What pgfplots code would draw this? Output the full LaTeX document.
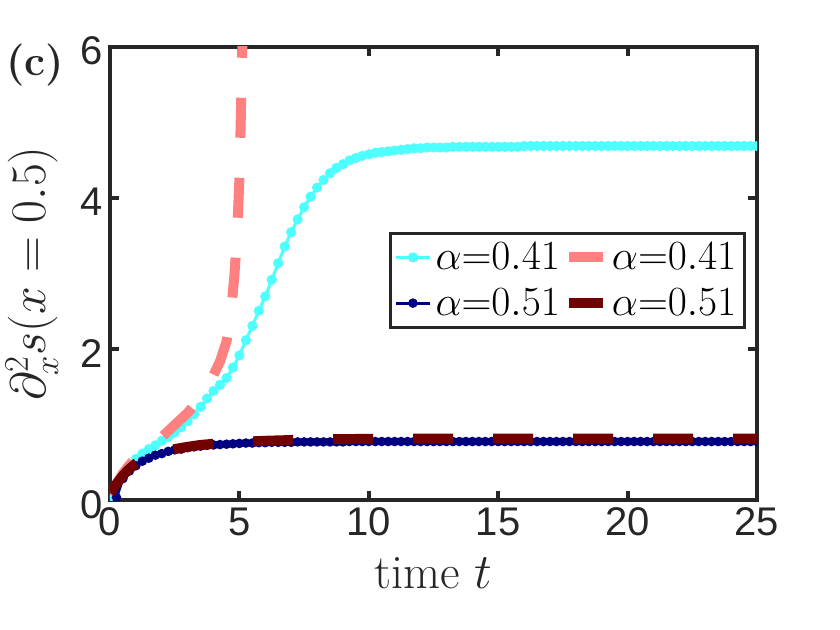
\documentclass[border=0pt]{standalone}
\usepackage{fontspec}
\usepackage{pgfplots}
\pgfplotsset{compat=1.18}
\newfontfamily\arialf{Liberation Sans}
\definecolor{axgray}{RGB}{38,38,38}
\definecolor{cyanl}{RGB}{77,255,255}
\definecolor{navyd}{RGB}{0,0,128}
\definecolor{pinkl}{RGB}{255,128,128}
\definecolor{redd}{RGB}{115,0,0}

% alpha = 0.41, dotted line
\pgfplotstableread{
t y
0 0.02
0.25 0.17
0.5 0.31
0.75 0.44
1 0.55
1.25 0.62
1.5 0.68
1.75 0.73
2 0.79
2.25 0.84
2.5 0.90
2.75 0.97
3 1.05
3.25 1.14
3.5 1.24
3.75 1.35
4 1.45
4.25 1.53
4.5 1.62
4.75 1.76
5 1.92
5.25 2.12
5.5 2.31
5.75 2.51
6 2.70
6.25 2.92
6.5 3.14
6.75 3.36
7 3.55
7.25 3.72
7.5 3.88
7.75 4.02
8 4.14
8.25 4.24
8.5 4.33
8.75 4.40
9 4.45
9.25 4.50
9.5 4.53
9.75 4.56
10 4.58
10.25 4.60
10.5 4.61
10.75 4.62
11 4.63
11.25 4.64
11.5 4.65
11.75 4.66
12 4.66
12.25 4.67
12.5 4.67
12.75 4.67
13 4.67
13.25 4.68
13.5 4.68
13.75 4.68
14 4.68
14.25 4.68
14.5 4.68
14.75 4.68
15 4.68
15.25 4.68
15.5 4.68
15.75 4.68
16 4.69
16.25 4.69
16.5 4.69
16.75 4.69
17 4.69
17.25 4.69
17.5 4.69
17.75 4.69
18 4.69
18.25 4.69
18.5 4.69
18.75 4.69
19 4.69
19.25 4.69
19.5 4.69
19.75 4.69
20 4.69
20.25 4.69
20.5 4.69
20.75 4.69
21 4.69
21.25 4.69
21.5 4.69
21.75 4.69
22 4.69
22.25 4.69
22.5 4.69
22.75 4.69
23 4.69
23.25 4.69
23.5 4.69
23.75 4.69
24 4.69
24.25 4.69
24.5 4.69
24.75 4.69
25 4.69
}\cyandata

% alpha = 0.51, dotted line
\pgfplotstableread{
t y
0.25 0.04
0.5 0.29
0.75 0.39
1 0.46
1.25 0.52
1.5 0.56
1.75 0.60
2 0.62
2.25 0.65
2.5 0.67
2.75 0.68
3 0.70
3.25 0.71
3.5 0.72
3.75 0.73
4 0.735
4.25 0.74
4.5 0.745
4.75 0.75
5 0.755
5.25 0.76
5.5 0.76
5.75 0.765
6 0.765
6.25 0.77
6.5 0.77
6.75 0.77
7 0.77
7.25 0.775
7.5 0.775
7.75 0.775
8 0.775
8.25 0.775
8.5 0.775
8.75 0.775
9 0.775
9.25 0.78
9.5 0.78
9.75 0.78
10 0.78
10.25 0.78
10.5 0.78
10.75 0.78
11 0.78
11.25 0.78
11.5 0.78
11.75 0.78
12 0.78
12.25 0.78
12.5 0.78
12.75 0.78
13 0.78
13.25 0.78
13.5 0.78
13.75 0.78
14 0.78
14.25 0.78
14.5 0.78
14.75 0.78
15 0.78
15.25 0.78
15.5 0.78
15.75 0.78
16 0.78
16.25 0.78
16.5 0.78
16.75 0.78
17 0.78
17.25 0.78
17.5 0.78
17.75 0.78
18 0.78
18.25 0.78
18.5 0.78
18.75 0.78
19 0.78
19.25 0.78
19.5 0.78
19.75 0.78
20 0.78
20.25 0.78
20.5 0.78
20.75 0.78
21 0.78
21.25 0.78
21.5 0.78
21.75 0.78
22 0.78
22.25 0.78
22.5 0.78
22.75 0.78
23 0.78
23.25 0.78
23.5 0.78
23.75 0.78
24 0.78
24.25 0.78
24.5 0.78
24.75 0.78
25 0.78
}\navydata

\begin{document}
\begin{tikzpicture}
\begin{axis}[
    scale only axis,
    width=323.5pt, height=226.75pt,
    xmin=0, xmax=25,
    ymin=0, ymax=6,
    xtick={0,5,10,15,20,25},
    ytick={0,2,4,6},
    clip marker paths=true,
    axis line style={line width=2pt, axgray},
    tick style={line width=2pt, axgray},
    major tick length=4.5pt,
    /pgf/number format/assume math mode=true,
    ticklabel style={font=\arialf\fontsize{20}{24}\selectfont, text=axgray},
    yticklabel style={yshift=-2pt},
    xlabel={time $t$},
    ylabel={$\partial_x^2 s(x=0.5)$},
    label style={font=\fontsize{24}{28}\selectfont, text=axgray},
    xlabel style={at={(axis description cs:0.5,-0.161)}, anchor=center},
    ylabel style={at={(axis description cs:-0.1206,0.5)}, anchor=center},
    legend columns=2,
    legend cell align=left,
    legend style={at={(axis description cs:0.431,0.592)}, anchor=north west,
        draw=axgray, line width=1.5pt, inner xsep=2pt, inner ysep=2.5pt,
        row sep=4pt,
        font=\fontsize{22}{26}\selectfont,
        /tikz/every even column/.append style={column sep=0pt}},
]
\addplot[cyanl, line width=1.5pt, mark=*, mark size=1.75pt,
    mark options={solid, fill=cyanl, draw=cyanl}] table[x=t, y=y] {\cyandata};
\addlegendentry{$\alpha{=}0.41$}
\addplot[pinkl, line width=5pt, dash pattern=on 20pt off 20pt] coordinates {
(0,0.08) (0.25,0.22) (0.5,0.36) (0.75,0.47) (1,0.56) (1.5,0.70) (2,0.84)
(2.5,1.00) (3,1.16) (3.5,1.36) (3.75,1.50) (4,1.66) (4.25,1.84) (4.5,2.10)
(4.6,2.30) (4.7,2.58) (4.8,2.95) (4.9,3.45) (5.0,4.25) (5.05,5.0) (5.1,5.8)
(5.15,6.6)
};
\addlegendentry{$\alpha{=}0.41$}
\addplot[navyd, line width=1.5pt, mark=*, mark size=1.6pt,
    mark options={solid, fill=navyd, draw=navyd}] table[x=t, y=y] {\navydata};
\addlegendentry{$\alpha{=}0.51$}
\addplot[redd, line width=5pt, dash pattern=on 20pt off 20pt] coordinates {
(0,0.10) (0.25,0.22) (0.5,0.33) (0.75,0.42) (1,0.49) (1.25,0.54) (1.5,0.58)
(2,0.64) (2.5,0.68) (3,0.71) (3.5,0.735) (4,0.75) (4.5,0.765) (5,0.775)
(6,0.79) (7,0.80) (8,0.81) (10,0.815) (12,0.82) (15,0.82) (20,0.82) (25,0.82)
};
\addlegendentry{$\alpha{=}0.51$}
\coordinate (sw) at (rel axis cs:0,0);
\coordinate (nw) at (rel axis cs:0,1);
\end{axis}
\node[font=\bfseries\fontsize{21}{24}\selectfont, text=axgray] at ([shift={(-37.25pt,-9pt)}]nw) {(c)};
\pgfresetboundingbox
\path[use as bounding box] ([shift={(-55pt,-64.75pt)}]sw) rectangle ++(420pt,315pt);
\end{tikzpicture}
\end{document}
